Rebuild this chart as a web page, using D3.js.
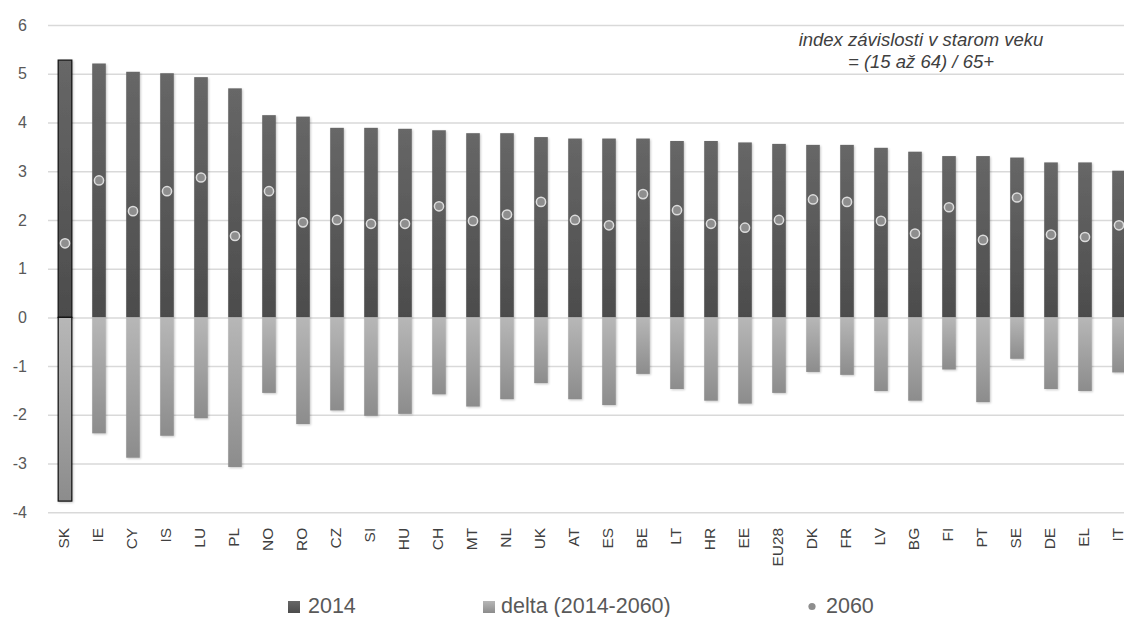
<!DOCTYPE html>
<html>
<head>
<meta charset="utf-8">
<script src="https://cdn.jsdelivr.net/npm/d3@7/dist/d3.min.js"></script>
<style>
  html, body { margin: 0; padding: 0; background: #fff; }
  svg { display: block; font-family: "Liberation Sans", Arial, sans-serif; }
</style>
</head>
<body>
<svg id="chart" width="1124" height="617"></svg>
<script>
// Old-age dependency index by country
const countries = ["SK","IE","CY","IS","LU","PL","NO","RO","CZ","SI","HU","CH","MT","NL","UK","AT","ES","BE","LT","HR","EE","EU28","DK","FR","LV","BG","FI","PT","SE","DE","EL","IT"];
const values2014 = [5.28,5.21,5.04,5.01,4.93,4.70,4.15,4.12,3.89,3.89,3.87,3.84,3.78,3.78,3.70,3.67,3.67,3.67,3.62,3.62,3.59,3.56,3.54,3.54,3.48,3.40,3.31,3.31,3.28,3.18,3.18,3.01];
const valuesDelta = [-3.77,-2.38,-2.88,-2.43,-2.07,-3.07,-1.55,-2.19,-1.91,-2.02,-1.98,-1.58,-1.83,-1.68,-1.35,-1.68,-1.80,-1.16,-1.47,-1.71,-1.77,-1.55,-1.12,-1.18,-1.51,-1.71,-1.07,-1.74,-0.85,-1.47,-1.51,-1.13];
const values2060 = [1.52,2.81,2.18,2.59,2.87,1.67,2.59,1.95,2.00,1.92,1.92,2.28,1.98,2.11,2.37,2.00,1.89,2.53,2.20,1.92,1.84,2.00,2.42,2.37,1.98,1.72,2.26,1.59,2.46,1.70,1.65,1.89];
const yTicks = [-4,-3,-2,-1,0,1,2,3,4,5,6];
const highlighted = ["SK"];
const seriesNames = ["2014", "delta (2014-2060)", "2060"];
const noteLines = ["index závislosti v starom veku", "= (15 až 64) / 65+"];

const rows = countries.map((c, i) => ({ c, v14: values2014[i], d: valuesDelta[i], v60: values2060[i] }));

const W = 1124, H = 617;
const svg = d3.select("#chart");
const left = 48;

const x = d3.scaleBand().domain(countries).range([left, left + 34 * countries.length])
  .paddingInner(0.6).paddingOuter(0.3);
const y = d3.scaleLinear().domain([-4, 6]).range([512.3, 25]);

// gradients and soft shadow
const defs = svg.append("defs");
function vGrad(id, top, bottom) {
  const g = defs.append("linearGradient").attr("id", id).attr("x1", 0).attr("y1", 0).attr("x2", 0).attr("y2", 1);
  g.append("stop").attr("offset", "0%").attr("stop-color", top);
  g.append("stop").attr("offset", "100%").attr("stop-color", bottom);
}
vGrad("gDark", "#676767", "#4c4c4c");
vGrad("gLight", "#b7b7b7", "#8c8c8c");
const f = defs.append("filter").attr("id", "shadow").attr("x", "-30%").attr("y", "-5%").attr("width", "160%").attr("height", "110%");
f.append("feDropShadow").attr("dx", 1).attr("dy", 1).attr("stdDeviation", 1).attr("flood-color", "#000").attr("flood-opacity", 0.22);

// y axis with gridlines
const yAxis = svg.append("g").attr("transform", `translate(${left},0)`)
  .call(d3.axisLeft(y).tickValues(yTicks).tickSize(-(W - left)).tickPadding(21).tickFormat(d => String(d)));
yAxis.select(".domain").remove();
yAxis.selectAll(".tick line").attr("stroke", "#d9d9d9").attr("stroke-width", 1.5);
yAxis.selectAll(".tick text").attr("fill", "#595959").style("font-size", "16px");

// 2014 bars
svg.append("g").selectAll("rect").data(rows).join("rect")
  .attr("x", d => x(d.c)).attr("width", x.bandwidth())
  .attr("y", d => y(d.v14)).attr("height", d => y(0) - y(d.v14))
  .attr("fill", "url(#gDark)")
  .attr("filter", "url(#shadow)")
  .attr("stroke", d => highlighted.includes(d.c) ? "#111" : "none")
  .attr("stroke-width", 1.2);

// delta bars
svg.append("g").selectAll("rect").data(rows).join("rect")
  .attr("x", d => x(d.c)).attr("width", x.bandwidth())
  .attr("y", y(0)).attr("height", d => y(d.d) - y(0))
  .attr("fill", "url(#gLight)")
  .attr("filter", "url(#shadow)")
  .attr("stroke", d => highlighted.includes(d.c) ? "#111" : "none")
  .attr("stroke-width", 1.2);

// 2060 points
svg.append("g").selectAll("circle").data(rows).join("circle")
  .attr("cx", d => x(d.c) + x.bandwidth() / 2)
  .attr("cy", d => y(d.v60))
  .attr("r", 4.6)
  .attr("fill", "#8e8e8e")
  .attr("stroke", "#dcdcdc")
  .attr("stroke-width", 1.5);

// category labels
const xAxis = svg.append("g").attr("transform", `translate(0,${y(-4)})`)
  .call(d3.axisBottom(x).tickSize(0).tickPadding(0));
xAxis.select(".domain").remove();
xAxis.selectAll(".tick text")
  .attr("transform", "rotate(-90)")
  .attr("x", -15.5).attr("y", 0).attr("dy", "0.28em")
  .attr("text-anchor", "end")
  .attr("fill", "#404040")
  .style("font-size", "15.5px");

// note
svg.append("g").selectAll("text").data(noteLines).join("text")
  .attr("x", 921).attr("y", (d, i) => 46 + i * 22)
  .attr("text-anchor", "middle")
  .attr("fill", "#404040")
  .style("font-style", "italic")
  .style("font-size", "18.5px")
  .text(d => d);

// legend
const lg = svg.append("g").style("font-size", "21.5px").attr("fill", "#595959");
lg.append("rect").attr("x", 288).attr("y", 601).attr("width", 12).attr("height", 12).attr("fill", "url(#gDark)");
lg.append("text").attr("x", 308).attr("y", 613).text(seriesNames[0]);
lg.append("rect").attr("x", 483).attr("y", 601).attr("width", 12).attr("height", 12).attr("fill", "url(#gLight)");
lg.append("text").attr("x", 501).attr("y", 613).text(seriesNames[1]);
lg.append("circle").attr("cx", 812).attr("cy", 606.5).attr("r", 3.6).attr("fill", "#8e8e8e");
lg.append("text").attr("x", 826).attr("y", 613).text(seriesNames[2]);
</script>
</body>
</html>
